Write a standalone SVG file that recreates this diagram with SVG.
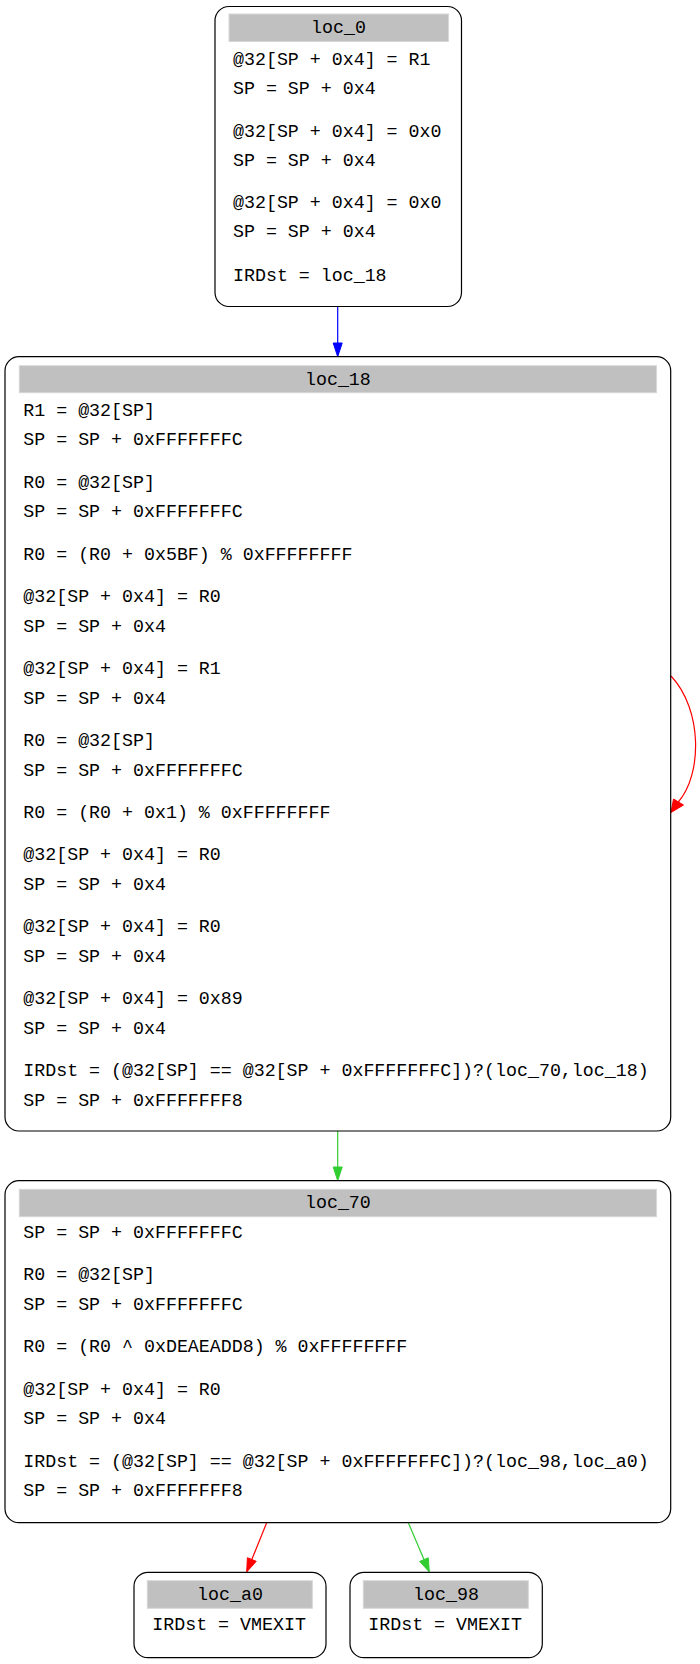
<svg xmlns="http://www.w3.org/2000/svg" width="700" height="1664" viewBox="0 0 700 1664">
<style>
.box{fill:#fff;stroke:#000;stroke-width:1.2}
.hdr{fill:#c0c0c0;stroke:#d8d8d8;stroke-width:1}
text{font-family:"Liberation Mono","DejaVu Sans Mono",monospace;font-size:18.3px;fill:#000}
.h{text-anchor:middle}
.e{fill:none;stroke-width:1.2}
</style>
<rect width="700" height="1664" fill="#fff"/>
<g id="connectors">
  <path class="e" stroke="#0000ff" d="M337.7,306.7 L337.7,343"/>
  <polygon fill="#0000ff" stroke="#0000ff" points="333.2,343 342.2,343 337.7,356.7"/>
  <path class="e" stroke="#32cd32" d="M337.7,1131 L337.7,1167"/>
  <polygon fill="#32cd32" stroke="#32cd32" points="333.2,1167 342.2,1167 337.7,1180.7"/>
  <path class="e" stroke="#ff0000" d="M671,676 C703,710 702,775 678.3,802"/>
  <polygon fill="#ff0000" stroke="#ff0000" points="673.5,799 683.5,805 671,812.5"/>
  <path class="e" stroke="#ff0000" d="M266.7,1522.7 L251.8,1559.5"/>
  <polygon fill="#ff0000" stroke="#ff0000" points="256.2,1561.3 247.4,1557.7 246.7,1572"/>
  <path class="e" stroke="#32cd32" d="M408.3,1522.7 L424,1559.6"/>
  <polygon fill="#32cd32" stroke="#32cd32" points="428.3,1557.8 419.7,1561.4 429.3,1572"/>
</g>
<g id="loc_0">
  <rect class="box" x="215" y="6.5" width="246.5" height="300" rx="14" ry="14"/>
  <rect class="hdr" x="229" y="14" width="219.5" height="27.5"/>
  <text class="h" x="338.5" y="33">loc_0</text>
  <text x="233" y="65">@32[SP + 0x4] = R1</text>
  <text x="233" y="94">SP = SP + 0x4</text>
  <text x="233" y="137">@32[SP + 0x4] = 0x0</text>
  <text x="233" y="166">SP = SP + 0x4</text>
  <text x="233" y="208">@32[SP + 0x4] = 0x0</text>
  <text x="233" y="237">SP = SP + 0x4</text>
  <text x="233" y="281">IRDst = loc_18</text>
</g>
<g id="loc_18">
  <rect class="box" x="5" y="356.7" width="665.7" height="774.3" rx="14" ry="14"/>
  <rect class="hdr" x="19.3" y="365.7" width="637.2" height="27"/>
  <text class="h" x="337.9" y="384.5">loc_18</text>
  <text x="23.3" y="415.5">R1 = @32[SP]</text>
  <text x="23.3" y="445.2">SP = SP + 0xFFFFFFFC</text>
  <text x="23.3" y="487.5">R0 = @32[SP]</text>
  <text x="23.3" y="517.2">SP = SP + 0xFFFFFFFC</text>
  <text x="23.3" y="559.5">R0 = (R0 + 0x5BF) % 0xFFFFFFFF</text>
  <text x="23.3" y="601.8">@32[SP + 0x4] = R0</text>
  <text x="23.3" y="631.5">SP = SP + 0x4</text>
  <text x="23.3" y="673.8">@32[SP + 0x4] = R1</text>
  <text x="23.3" y="703.5">SP = SP + 0x4</text>
  <text x="23.3" y="745.8">R0 = @32[SP]</text>
  <text x="23.3" y="775.5">SP = SP + 0xFFFFFFFC</text>
  <text x="23.3" y="817.8">R0 = (R0 + 0x1) % 0xFFFFFFFF</text>
  <text x="23.3" y="860.1">@32[SP + 0x4] = R0</text>
  <text x="23.3" y="889.8">SP = SP + 0x4</text>
  <text x="23.3" y="932.1">@32[SP + 0x4] = R0</text>
  <text x="23.3" y="961.8">SP = SP + 0x4</text>
  <text x="23.3" y="1004.1">@32[SP + 0x4] = 0x89</text>
  <text x="23.3" y="1033.8">SP = SP + 0x4</text>
  <text x="23.3" y="1076.1">IRDst = (@32[SP] == @32[SP + 0xFFFFFFFC])?(loc_70,loc_18)</text>
  <text x="23.3" y="1105.8">SP = SP + 0xFFFFFFF8</text>
</g>
<g id="loc_70">
  <rect class="box" x="5" y="1180.7" width="665.7" height="342" rx="14" ry="14"/>
  <rect class="hdr" x="19.3" y="1189.3" width="637.2" height="27.4"/>
  <text class="h" x="337.9" y="1208">loc_70</text>
  <text x="23.3" y="1238">SP = SP + 0xFFFFFFFC</text>
  <text x="23.3" y="1280.3">R0 = @32[SP]</text>
  <text x="23.3" y="1310">SP = SP + 0xFFFFFFFC</text>
  <text x="23.3" y="1352.3">R0 = (R0 ^ 0xDEAEADD8) % 0xFFFFFFFF</text>
  <text x="23.3" y="1394.6">@32[SP + 0x4] = R0</text>
  <text x="23.3" y="1424.3">SP = SP + 0x4</text>
  <text x="23.3" y="1466.7">IRDst = (@32[SP] == @32[SP + 0xFFFFFFFC])?(loc_98,loc_a0)</text>
  <text x="23.3" y="1496.4">SP = SP + 0xFFFFFFF8</text>
</g>
<g id="loc_a0">
  <rect class="box" x="134" y="1572.3" width="192" height="85.4" rx="14" ry="14"/>
  <rect class="hdr" x="147.3" y="1580.7" width="165" height="27.6"/>
  <text class="h" x="230" y="1600">loc_a0</text>
  <text x="152.3" y="1630">IRDst = VMEXIT</text>
</g>
<g id="loc_98">
  <rect class="box" x="350" y="1572.3" width="192.3" height="85.4" rx="14" ry="14"/>
  <rect class="hdr" x="363.3" y="1580.7" width="165" height="27.6"/>
  <text class="h" x="446" y="1600">loc_98</text>
  <text x="368.3" y="1630">IRDst = VMEXIT</text>
</g>
</svg>
